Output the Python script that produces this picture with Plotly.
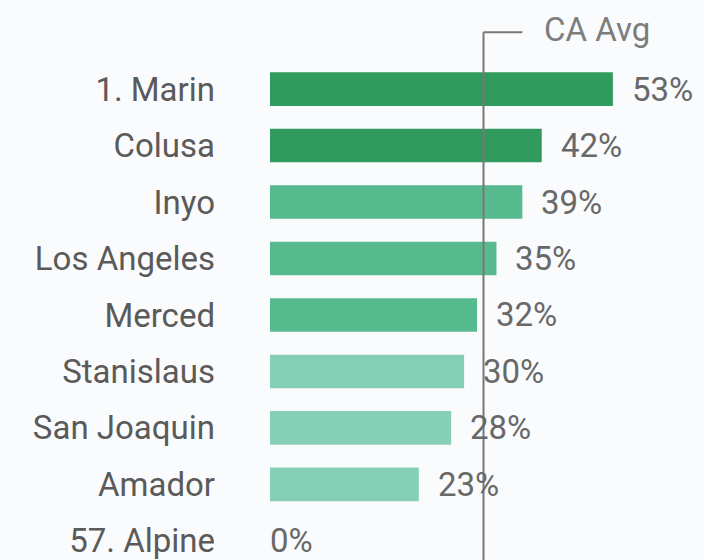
import plotly.graph_objects as go

counties = ["1. Marin", "Colusa", "Inyo", "Los Angeles", "Merced",
            "Stanislaus", "San Joaquin", "Amador", "57. Alpine"]
values = [53, 42, 39, 35, 32, 30, 28, 23, 0]
value_labels = ["53%", "42%", "39%", "35%", "32%", "30%", "28%", "23%", "0%"]
tiers = [0, 0, 1, 1, 1, 2, 2, 2, 2]
ca_avg = 33
ca_label = "CA Avg"

tier_colors = ["#319b5d", "#57ba8e", "#86cfb7"]
bar_colors = [tier_colors[t] for t in tiers]

FONT = "Roboto"
BG = "#fafbfd"

fig = go.Figure()
fig.add_trace(go.Bar(
    x=values, y=counties, orientation="h",
    marker=dict(color=bar_colors, line=dict(width=0)),
    hoverinfo="skip", showlegend=False,
))

annotations = []
for c, v, lab in zip(counties, values, value_labels):
    annotations.append(dict(
        x=v, y=c, xref="x", yref="y", text=lab, showarrow=False,
        xanchor="left", yanchor="middle", xshift=17 if v > 0 else -2,
        font=dict(family=FONT, size=33, color="#686868"),
    ))

annotations.append(dict(
    x=ca_avg + 9, y=1, xref="x", yref="paper", text=ca_label, showarrow=False,
    xanchor="left", yanchor="middle", yshift=-29,
    font=dict(family=FONT, size=33, color="#7d7d7d"),
))

shapes = [
    dict(type="line", xref="x", yref="paper", x0=ca_avg, x1=ca_avg,
         y0=-0.2, y1=1 - 33 / 560, line=dict(color="#777777", width=2)),
    dict(type="line", xref="x", yref="paper", x0=ca_avg, x1=ca_avg + 6,
         y0=1 - 33 / 560, y1=1 - 33 / 560, line=dict(color="#777777", width=2)),
]

fig.update_layout(
    width=704, height=560,
    margin=dict(l=270, r=0, t=0, b=0),
    paper_bgcolor=BG, plot_bgcolor=BG,
    bargap=0.405,
    annotations=annotations, shapes=shapes,
    xaxis=dict(range=[0, 67.08], visible=False, showgrid=False, zeroline=False),
    yaxis=dict(range=[8.109, -1.578], showgrid=False, zeroline=False,
               showline=False, ticks="", ticklabelstandoff=54,
               tickfont=dict(family=FONT, size=33, color="#5a5a5a")),
)

fig.write_html(
    "out.html",
    config={"displayModeBar": False},
    post_script="document.body.style.margin='0';document.body.style.background='#fafbfd';",
)
